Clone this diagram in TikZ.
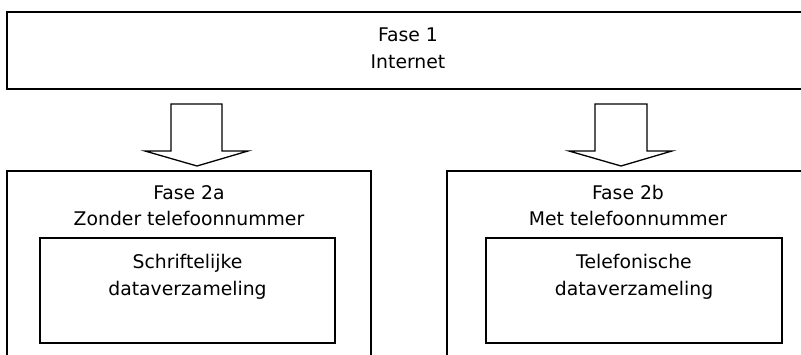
\documentclass[tikz,border=0pt]{standalone}
\usepackage{fontspec}
\setmainfont{DejaVu Sans}
\begin{document}
\begin{tikzpicture}[x=1pt,y=-1pt,
  outerbox/.style={draw=black,line width=1.5pt,rectangle,inner sep=0pt,outer sep=0pt,anchor=north west},
  topbox/.style={outerbox,line width=2pt},
  lbl/.style={font=\fontsize{18.8}{26}\selectfont,anchor=base,inner sep=0pt,outer sep=0pt},
  blockarrow/.style={draw=black,line width=1.3pt,line join=miter,fill=white}]
\useasboundingbox (0,0) rectangle (801,354);
\clip (0,0) rectangle (801,354);
% boxes
\node[topbox,minimum width=802pt,minimum height=77.5pt] (fase1) at (7,11.5) {};
\node[outerbox,minimum width=364pt,minimum height=230pt] (fase2a) at (7,171) {};
\node[outerbox,minimum width=362pt,minimum height=230pt] (fase2b) at (447,171) {};
\node[outerbox,minimum width=295pt,minimum height=105pt] (schrift) at (40,238) {};
\node[outerbox,minimum width=296pt,minimum height=105pt] (telef) at (486,238) {};
% labels
\node[lbl] (l1a) at (408,41.7) {Fase 1};
\node[lbl] (l1b) at (408,68.3) {Internet};
\node[lbl] (l2a) at (189,199.5) {Fase 2a};
\node[lbl] (l2b) at (189,225) {Zonder telefoonnummer};
\node[lbl] (l3a) at (187.5,268.3) {Schriftelijke};
\node[lbl] (l3b) at (187.5,295) {dataverzameling};
\node[lbl] (r2a) at (628,199.5) {Fase 2b};
\node[lbl] (r2b) at (628,225) {Met telefoonnummer};
\node[lbl] (r3a) at (634,268.3) {Telefonische};
\node[lbl] (r3b) at (634,295) {dataverzameling};
% block arrows
\draw[blockarrow] (171,104) -- (222,104) -- (222,151) -- (248,151) -- (197,166) -- (145,151) -- (171,151) -- cycle;
\draw[blockarrow] (595,104) -- (647,104) -- (647,151) -- (672,151) -- (621,166) -- (569,151) -- (595,151) -- cycle;
\end{tikzpicture}
\end{document}
